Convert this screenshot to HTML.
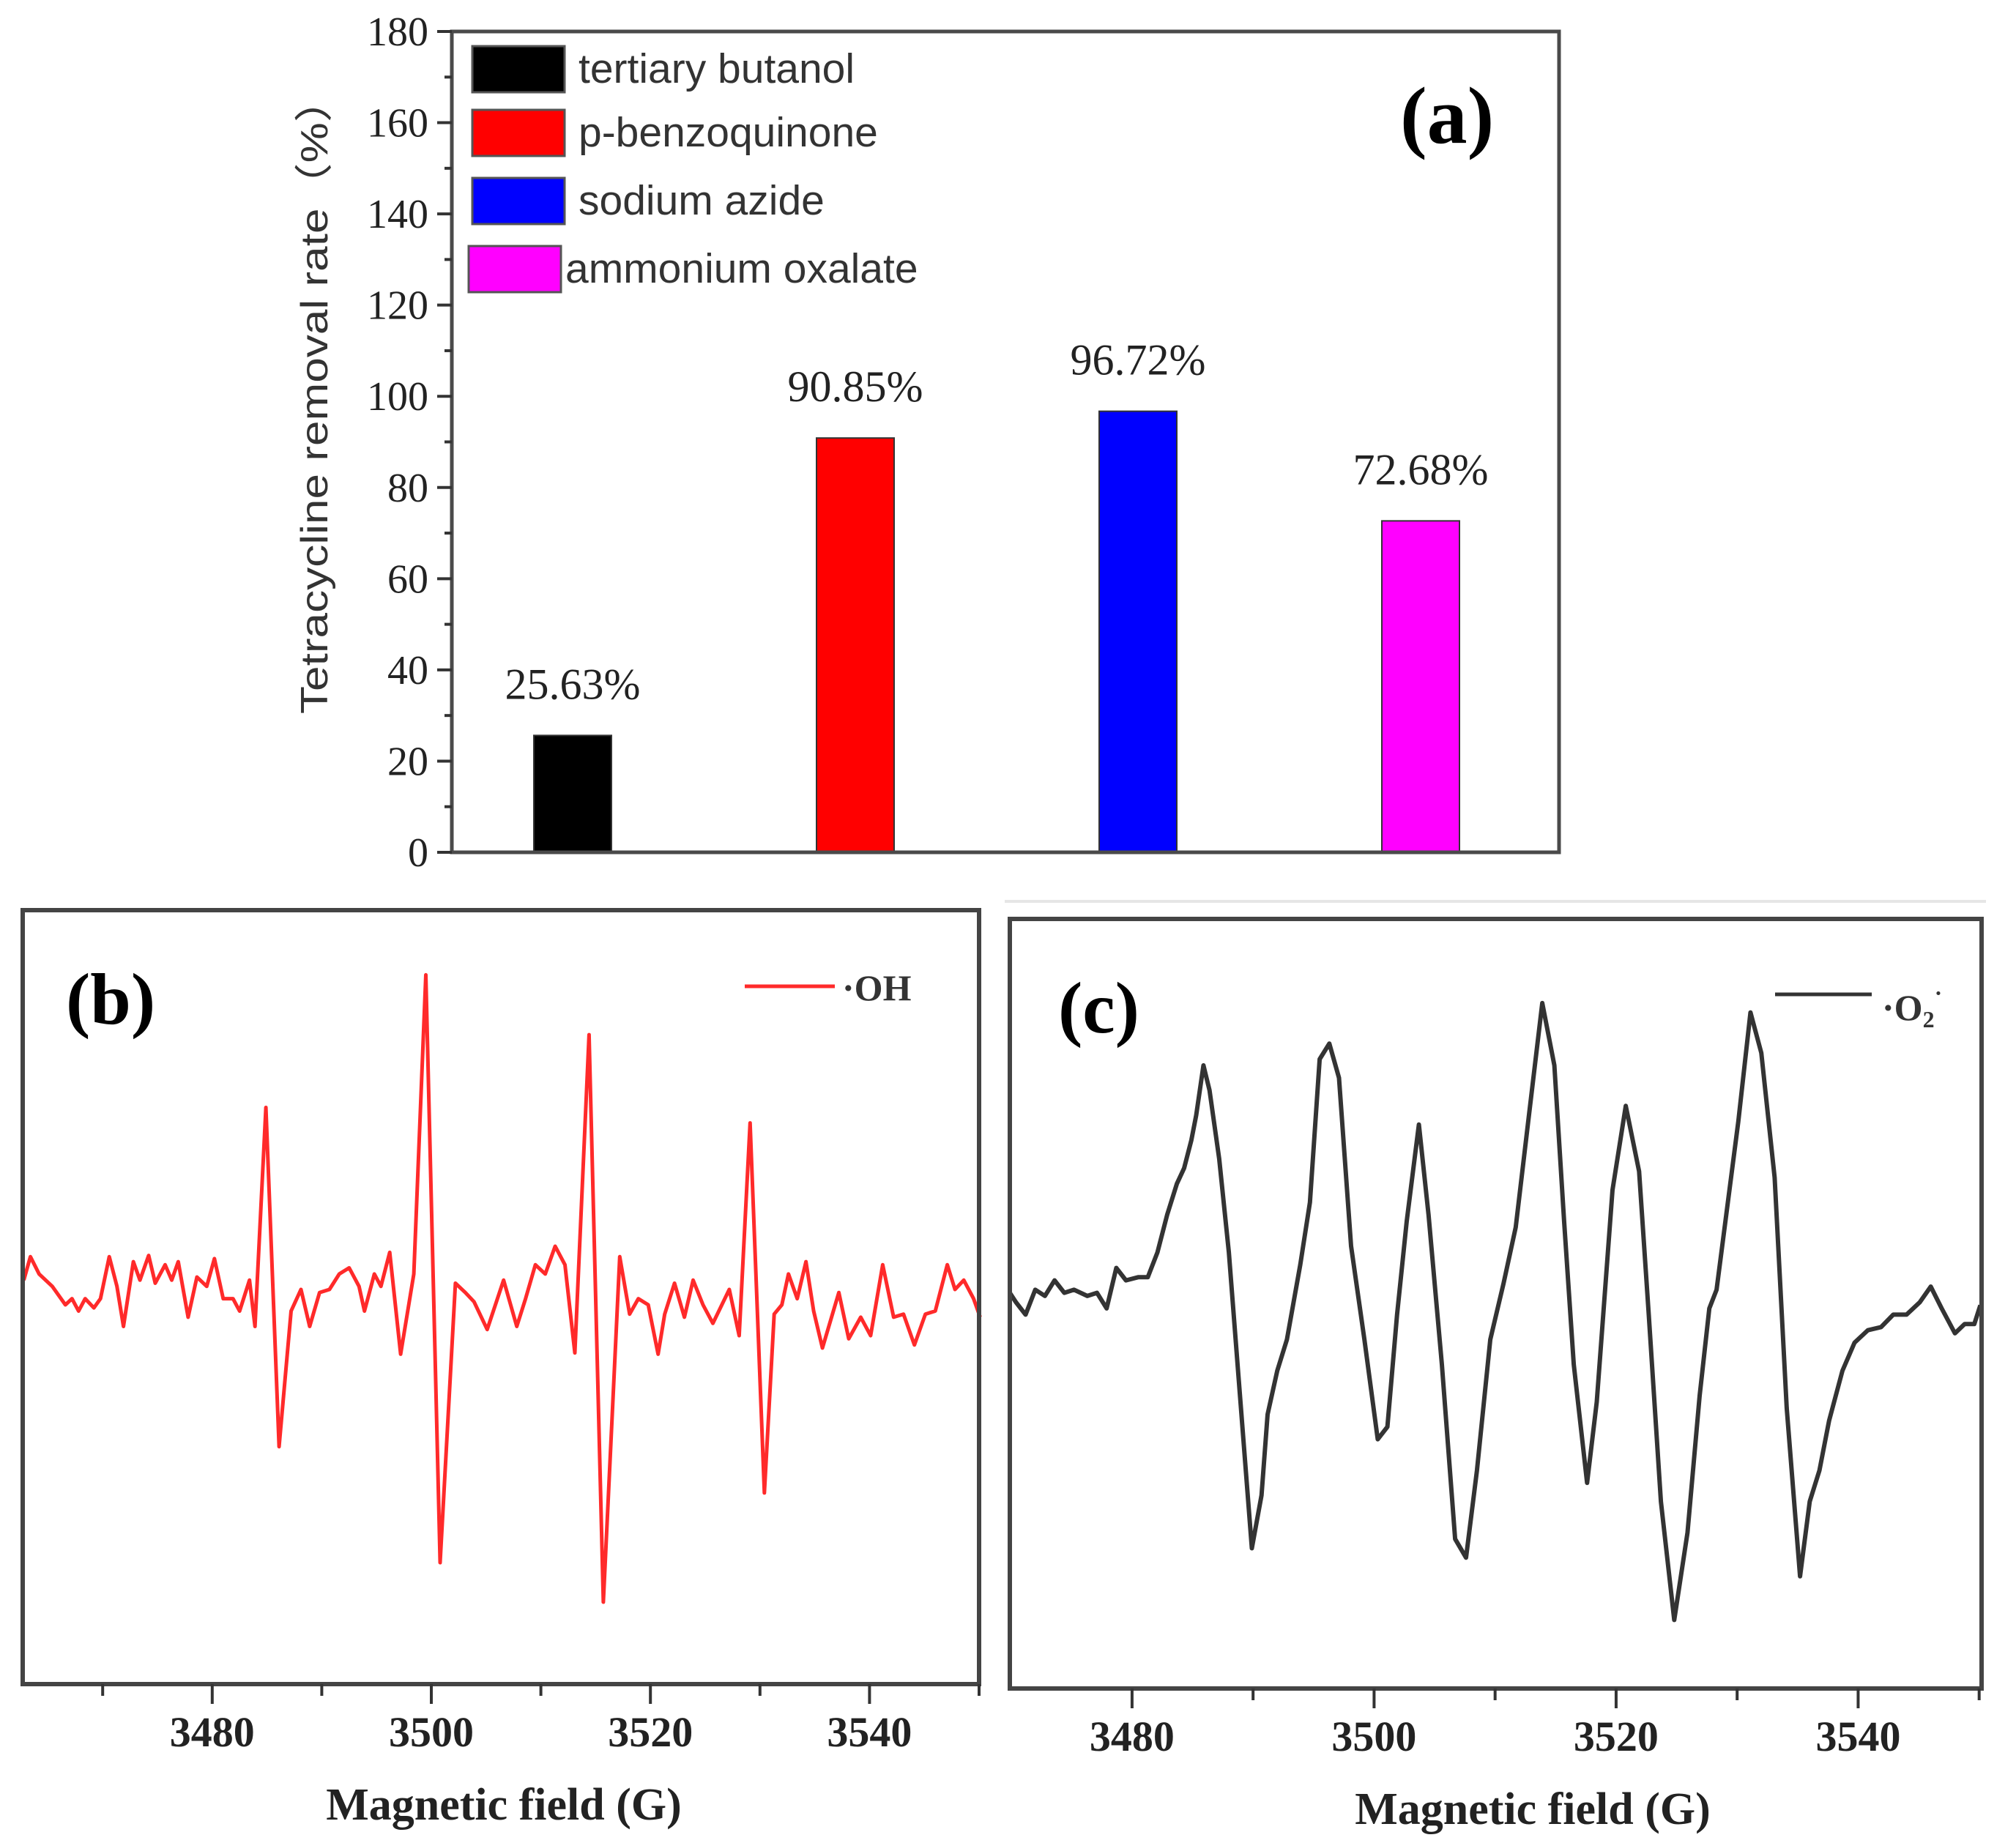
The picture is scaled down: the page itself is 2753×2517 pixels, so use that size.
<!DOCTYPE html>
<html><head><meta charset="utf-8"><style>
html,body{margin:0;padding:0;background:#fff;}
svg{display:block;}
</style></head><body>
<svg id="fig" xmlns="http://www.w3.org/2000/svg" width="2753" height="2517" viewBox="0 0 2753 2517">
<rect x="0" y="0" width="2753" height="2517" fill="#fff"/>
<g id="pa"></g>
<g id="pb"></g>
<g id="pc"></g>
</svg>
<script>
// ---------- Panel (a) data ----------
const categories = ["tertiary butanol","p-benzoquinone","sodium azide","ammonium oxalate"];
const removalRates = [25.63, 90.85, 96.72, 72.68];
const rateLabels = ["25.63%","90.85%","96.72%","72.68%"];
const barColors = ["#000000","#ff0000","#0000ff","#ff00ff"];
const yTicksA = [0,20,40,60,80,100,120,140,160,180];

// ---------- Panel (b) data: field (G), intensity (a.u.) ----------
const fieldB = [3462.8,3463.4,3464.2,3465.4,3466.6,3467.2,3467.8,3468.4,3469.2,3469.8,3470.6,3471.3,3471.9,3472.8,3473.4,3474.2,3474.8,3475.7,3476.3,3476.9,3477.8,3478.6,3479.5,3480.2,3481.0,3481.9,3482.5,3483.4,3483.9,3484.9,3486.1,3487.2,3488.1,3488.9,3489.8,3490.7,3491.6,3492.5,3493.4,3493.9,3494.8,3495.4,3496.2,3497.2,3498.4,3499.5,3500.8,3502.2,3503.1,3503.9,3505.1,3506.6,3507.8,3508.6,3509.5,3510.4,3511.3,3512.2,3513.1,3514.4,3515.7,3517.2,3518.1,3518.9,3519.8,3520.7,3521.3,3522.2,3523.1,3523.9,3524.8,3525.7,3527.2,3528.1,3529.1,3530.4,3531.3,3532.0,3532.6,3533.4,3534.2,3534.9,3535.7,3537.2,3538.1,3539.2,3540.1,3541.2,3542.2,3543.1,3544.1,3545.1,3546.0,3547.1,3547.8,3548.6,3549.5,3550.1];
const intensityB = [3,6.8,4,2,-1,0,-2,0,-1.5,0,6.8,2,-4.5,6,3,7,2.5,5.5,3,6,-3,3.5,2,6.5,0,0,-2,3,-4.5,31,-24,-2,1.5,-4.5,1,1.5,4,5,2,-2,4,2,7.5,-9,4,52.5,-42.8,2.5,1,-0.5,-5,3,-4.5,0,5.5,4,8.5,5.5,-8.8,42.8,-49.2,6.8,-2.5,0,-1,-9,-2.5,2.5,-3,3,-1,-4,1.5,-6,28.5,-31.5,-2.5,-1,4,0,6,-2,-8,1,-6.5,-3,-6,5.5,-3,-2.5,-7.5,-2.5,-2,5.5,1.5,3,0,-3];
const xTicksB = [3480,3500,3520,3540];
const xMinorB = [3470,3490,3510,3530,3550];

// ---------- Panel (c) data ----------
const fieldC = [3469.9,3470.4,3471.2,3472.0,3472.8,3473.6,3474.4,3475.2,3476.3,3477.1,3477.9,3478.7,3479.5,3480.5,3481.3,3482.1,3482.9,3483.7,3484.3,3484.9,3485.3,3485.9,3486.4,3487.2,3488.0,3488.8,3489.9,3490.7,3491.2,3492.0,3492.8,3493.9,3494.7,3495.5,3496.3,3497.1,3498.1,3499.2,3500.3,3501.1,3501.9,3502.7,3503.7,3504.5,3505.6,3506.7,3507.6,3508.5,3509.6,3510.7,3511.7,3512.8,3513.9,3514.9,3515.7,3516.5,3517.6,3518.4,3519.7,3520.8,3521.9,3522.7,3523.7,3524.8,3525.9,3526.9,3527.7,3528.3,3529.1,3530.1,3531.1,3532.0,3533.1,3534.1,3535.2,3536.0,3536.8,3537.6,3538.7,3539.7,3540.8,3541.9,3542.9,3544.0,3545.1,3546.0,3546.9,3548.0,3548.8,3549.6,3550.1];
const intensityC = [1.5,0,-2,2,1,3.5,1.5,2,1,1.5,-1,5.5,3.5,4,4,8,14,19,21.5,26,30,38,34,23,8,-12,-39.5,-31,-18,-11,-6,6,16,39,41.5,36,9,-6,-22,-20,-2,13,28.5,14,-10,-38,-41,-27,-6,3,12,30,48,38,13,-10,-29,-16,18,31.5,21,-2,-32,-51,-37,-15,-1,2,14,29,46.5,40,20,-17,-44,-32,-27,-19,-11,-6.5,-4.5,-4,-2,-2,0,2.5,-1,-5,-3.5,-3.5,-0.5];
const xTicksC = [3480,3500,3520,3540];
const xMinorC = [3490,3510,3530,3550];

const NS = "http://www.w3.org/2000/svg";
function mk(parent, tag, attrs, text){
  const e = document.createElementNS(NS, tag);
  for (const k in attrs) e.setAttribute(k, attrs[k]);
  if (text !== undefined) e.textContent = text;
  parent.appendChild(e);
  return e;
}
const TIMES = '"Liberation Serif", serif';
const SANS = '"Liberation Sans", "Noto Sans CJK SC", sans-serif';

// ================= Panel (a) =================
(function(){
  const g = document.getElementById('pa');
  const L = 617, R = 2129, T = 43, B = 1164;
  const yMax = 180;
  const y = v => B - v / yMax * (B - T);
  const step = 386, first = L + 165;
  const xc = i => first + i * step;
  const bw = 106;

  categories.forEach((c, i) => {
    const r = mk(g, 'rect', {x: xc(i) - bw/2, y: y(removalRates[i]), width: bw, height: B - y(removalRates[i]), fill: barColors[i], stroke: '#333', 'stroke-width': 2});
    
    
    const t = mk(g, 'text', {x: xc(i), y: y(removalRates[i]) - 50, 'text-anchor': 'middle', 'font-family': TIMES, 'font-size': 60, fill: '#222'}, rateLabels[i]);
    
    
  });

  const fr = mk(g, 'rect', {x: L, y: T, width: R - L, height: B - T, fill: 'none', stroke: '#4a4a4a', 'stroke-width': 5});
  
  

  yTicksA.forEach(v => {
    mk(g, 'line', {x1: L - 20, x2: L, y1: y(v), y2: y(v), stroke: '#333', 'stroke-width': 4});
    const t = mk(g, 'text', {x: L - 32, y: y(v) + 19, 'text-anchor': 'end', 'font-family': TIMES, 'font-size': 56, fill: '#222'}, String(v));
    
    
    if (v < yMax) mk(g, 'line', {x1: L - 10, x2: L, y1: y(v + 10), y2: y(v + 10), stroke: '#333', 'stroke-width': 4});
  });

  const yt = mk(g, 'text', {x: 0, y: 0, transform: 'translate(447,540) rotate(-90)', 'text-anchor': 'middle', 'font-family': SANS, 'font-size': 52, fill: '#333', textLength: 870, lengthAdjust: 'spacingAndGlyphs'}, 'Tetracycline removal rate（%）');
  
  

  const legY = [63, 150, 243, 336];
  categories.forEach((c, i) => {
    const lg = mk(g, 'g', {});
    
    
    const bx = i === 3 ? 640 : 645;
    mk(lg, 'rect', {x: bx, y: legY[i], width: 126, height: 63, fill: barColors[i], stroke: '#555', 'stroke-width': 3});
    mk(lg, 'text', {x: i === 3 ? 772 : 790, y: legY[i] + 50, 'font-family': SANS, 'font-size': 57, fill: '#333'}, c);
  });

  const lab = mk(g, 'text', {x: 1912, y: 195, 'font-family': TIMES, 'font-size': 110, 'font-weight': 'bold', fill: '#000'}, '(a)');
  
  
})();

// ================= Spectrum panels =================
function spectrum(gid, o){
  const g = document.getElementById(gid);
  const x = f => o.L + (f - o.xMin) / (o.xMax - o.xMin) * (o.R - o.L);
  const y = v => o.B - (v - o.yMin) / (o.yMax - o.yMin) * (o.B - o.T);
  const d = o.fields.map((f, i) => (i ? 'L' : 'M') + x(f).toFixed(1) + ' ' + y(o.vals[i]).toFixed(1)).join(' ');
  const p = mk(g, 'path', {d: d, fill: 'none', stroke: o.color, 'stroke-width': o.sw, 'stroke-linejoin': 'round'});
  
  
  const fr = mk(g, 'rect', {x: o.L, y: o.T, width: o.R - o.L, height: o.B - o.T, fill: 'none', stroke: '#444', 'stroke-width': 6});
  
  
  o.ticks.forEach(t => {
    mk(g, 'line', {x1: x(t), x2: x(t), y1: o.B, y2: o.B + 27, stroke: '#333', 'stroke-width': 4});
    const tl = mk(g, 'text', {x: x(t), y: o.B + 85, 'text-anchor': 'middle', 'font-family': TIMES, 'font-size': 58, 'font-weight': 'bold', fill: '#222'}, String(t));
    
    
  });
  o.minor.forEach(t => {
    mk(g, 'line', {x1: x(t), x2: x(t), y1: o.B, y2: o.B + 16, stroke: '#333', 'stroke-width': 4});
  });
  const xt = mk(g, 'text', {x: o.titleX, y: o.B + 185, 'text-anchor': 'middle', 'font-family': TIMES, 'font-size': 62, 'font-weight': 'bold', fill: '#222', 'xml:space': 'preserve'}, 'Magnetic  field (G)');
  
  
  const lab = mk(g, 'text', {x: o.labX, y: o.T + 155, 'font-family': TIMES, 'font-size': 100, 'font-weight': 'bold', fill: '#000'}, o.label);
  
  
  const lg = mk(g, 'g', {});
  
  
  mk(lg, 'line', {x1: o.legX1, x2: o.legX2, y1: o.legY, y2: o.legY, stroke: o.color, 'stroke-width': 5});
  return lg;
}

const lgB = spectrum('pb', {name: 'oh', L: 31, R: 1337, T: 1243, B: 2300, xMin: 3462.7, xMax: 3550, yMin: -62.5, yMax: 63,
  fields: fieldB, vals: intensityB, color: '#ff2a2a', sw: 5, ticks: xTicksB, minor: xMinorB, titleX: 688, label: '(b)', labX: 90,
  legX1: 1017, legX2: 1140, legY: 1347});
mk(lgB, 'text', {x: 1150, y: 1366, 'font-family': TIMES, 'font-size': 50, 'font-weight': 'bold', fill: '#333'}, '·OH');

const sep = mk(document.getElementById('pc'), 'line', {x1: 1372, x2: 2712, y1: 1231, y2: 1231, stroke: '#e6e6e6', 'stroke-width': 4});



const lgC = spectrum('pc', {name: 'o2', L: 1379, R: 2706, T: 1255, B: 2306, xMin: 3469.9, xMax: 3550.2, yMin: -62, yMax: 61.5,
  fields: fieldC, vals: intensityC, color: '#333333', sw: 6, ticks: xTicksC, minor: xMinorC, titleX: 2093, label: '(c)', labX: 1445,
  legX1: 2424, legX2: 2556, legY: 1358});
const tc = mk(lgC, 'text', {x: 2570, y: 1393, 'font-family': TIMES, 'font-size': 50, 'font-weight': 'bold', fill: '#333'});
tc.appendChild(document.createTextNode('·O'));
const sub = mk(tc, 'tspan', {'font-size': 32, dy: 10}, '2');
const sup = mk(tc, 'tspan', {'font-size': 32, dy: -36}, '·');
</script>
</body></html>
